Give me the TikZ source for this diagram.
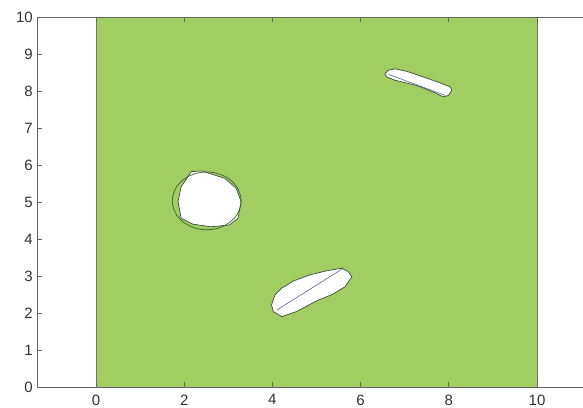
\documentclass[tikz,border=0pt]{standalone}
\usepackage{fontspec}
\setmainfont{Liberation Sans}
\definecolor{fieldgreen}{RGB}{161,205,98}
\definecolor{axisgray}{RGB}{100,100,100}
\definecolor{labelgray}{RGB}{50,50,50}
\definecolor{blobedge}{RGB}{60,75,55}
\definecolor{circedge}{RGB}{55,100,55}
\definecolor{linkblue}{RGB}{90,100,160}
\begin{document}
\begin{tikzpicture}[x=44.1pt,y=37pt,
  axisline/.style={draw=axisgray,line width=0.8pt},
  ticklabel/.style={font=\fontsize{15}{15}\selectfont,text=labelgray,inner sep=0pt},
  blob/.style={fill=white,draw=blobedge,line width=0.7pt,line join=round},
  circ/.style={draw=circedge,line width=0.7pt},
  inner/.style={draw=linkblue,line width=0.6pt}]
\useasboundingbox (-2.177,-0.568) rectangle (11.043,10.459);
% field
\path[fill=fieldgreen,draw=axisgray!80!fieldgreen,line width=0.7pt] (0,0) rectangle (10,10);
% circle hole
\path[blob] (2.16,5.82) -- (2.39,5.84) -- (2.92,5.64) -- (3.18,5.37) -- (3.29,5.01) -- (3.22,4.56) -- (3.03,4.38) -- (2.61,4.33) -- (2.20,4.40) -- (1.93,4.56) -- (1.86,5.01) -- (1.93,5.41) -- cycle;
\draw[circ] (2.51,5.03) ellipse [x radius=0.78, y radius=0.78];
% lower blob
\path[blob] (3.98,2.22) -- (4.02,2.04) -- (4.21,1.90) -- (4.55,2.04) -- (5.04,2.35) -- (5.34,2.49) -- (5.65,2.71) -- (5.80,2.98) -- (5.72,3.12) -- (5.57,3.21) -- (5.23,3.14) -- (4.85,3.03) -- (4.47,2.86) -- (4.21,2.67) -- (4.06,2.49) -- cycle;
\coordinate (la) at (4.10,2.08);
\coordinate (lb) at (5.61,3.21);
\draw[inner] (la) -- (lb);
% upper blob
\path[blob] (6.55,8.47) -- (6.59,8.38) -- (6.78,8.29) -- (7.27,8.15) -- (7.65,7.97) -- (7.88,7.84) -- (7.99,7.88) -- (8.07,8.02) -- (8.03,8.11) -- (7.80,8.22) -- (7.42,8.38) -- (7.05,8.53) -- (6.78,8.60) -- (6.63,8.56) -- cycle;
\coordinate (ua) at (6.63,8.45);
\coordinate (ub) at (7.92,7.88);
\draw[inner] (ua) -- (ub);
% axes
\draw[axisline] (11.1,0) -- (-1.34,0) -- (-1.34,10) -- (11.1,10);
\foreach \y in {0,...,10} {
  \draw[axisline] (-1.34,\y) -- ++(5pt,0);
  \node[ticklabel,anchor=east] (yl\y) at (-1.43,\y) {\y};
}
\foreach \x in {0,2,...,10} {
  \draw[axisline] (\x,0) -- ++(0,5pt);
  \draw[axisline] (\x,10) -- ++(0,-5pt);
  \node[ticklabel,anchor=north] (xl\x) at (\x,-0.2) {\x};
}
\end{tikzpicture}
\end{document}
